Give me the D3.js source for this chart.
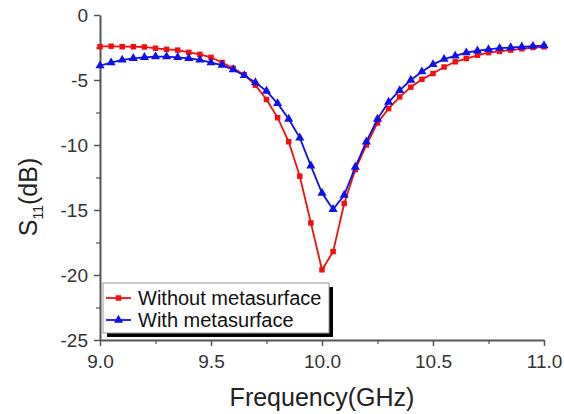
<!DOCTYPE html>
<html>
<head>
<meta charset="utf-8">
<script src="https://cdn.jsdelivr.net/npm/d3@7"></script>
<style>
  body { margin: 0; background: #fff; }
  text { font-family: "Liberation Sans", Arial, sans-serif; }
</style>
</head>
<body>
<div id="chart"></div>
<script>
// frequency points (GHz), 0.05 step
var freq = [9.00, 9.05, 9.10, 9.15, 9.20, 9.25, 9.30, 9.35, 9.40, 9.45,
            9.50, 9.55, 9.60, 9.65, 9.70, 9.75, 9.80, 9.85, 9.90, 9.95,
            10.00, 10.05, 10.10, 10.15, 10.20, 10.25, 10.30, 10.35, 10.40, 10.45,
            10.50, 10.55, 10.60, 10.65, 10.70, 10.75, 10.80, 10.85, 10.90, 10.95, 11.00];

var withoutMeta = [-2.44, -2.40, -2.44, -2.44, -2.46, -2.56, -2.64, -2.70, -2.87, -3.03,
                   -3.26, -3.65, -4.10, -4.60, -5.40, -6.50, -7.90, -9.75, -12.4, -16.0,
                   -19.6, -18.2, -14.5, -11.9, -10.0, -8.30, -7.20, -6.30, -5.55, -4.95,
                   -4.50, -4.00, -3.60, -3.35, -3.10, -2.90, -2.80, -2.70, -2.60, -2.50, -2.45];

var withMeta = [-3.90, -3.67, -3.46, -3.33, -3.26, -3.20, -3.20, -3.26, -3.33, -3.46,
                -3.67, -3.85, -4.20, -4.65, -5.20, -5.85, -6.80, -8.00, -9.45, -11.6,
                -13.7, -14.95, -13.85, -11.7, -9.75, -8.00, -6.70, -5.80, -5.00, -4.36,
                -3.80, -3.40, -3.15, -2.90, -2.75, -2.65, -2.55, -2.50, -2.45, -2.40, -2.35];

var xTicks = [9.0, 9.5, 10.0, 10.5, 11.0];
var yTicks = [0, -5, -10, -15, -20, -25];
var seriesNames = ["Without metasurface", "With metasurface"];

var W = 564, H = 414;
var margin = {top: 15, right: 20, bottom: 74, left: 100};
var width = W - margin.left - margin.right, height = H - margin.top - margin.bottom;

var svg = d3.select('#chart')
    .append('svg')
    .attr('width', W)
    .attr('height', H);
var g = svg.append('g')
    .attr('transform', 'translate(' + margin.left + ',' + margin.top + ')');

var x = d3.scaleLinear().domain([9, 11]).range([0, width]);
var y = d3.scaleLinear().domain([-25, 0]).range([height, 0]);

// minor ticks
g.append('g')
    .attr('transform', 'translate(0,' + height + ')')
    .call(d3.axisBottom(x).tickValues(d3.range(9.25, 11, 0.5)).tickSize(4).tickFormat(''))
    .call(function(a){ a.select('.domain').remove(); a.selectAll('line').attr('stroke', '#555').attr('stroke-width', 1.2); });
g.append('g')
    .call(d3.axisLeft(y).tickValues(d3.range(-22.5, 0, 5)).tickSize(4).tickFormat(''))
    .call(function(a){ a.select('.domain').remove(); a.selectAll('line').attr('stroke', '#555').attr('stroke-width', 1.2); });

// major axes
var xAxis = g.append('g')
    .attr('transform', 'translate(0,' + height + ')')
    .call(d3.axisBottom(x).tickValues(xTicks).tickSize(6).tickSizeOuter(0).tickPadding(9)
        .tickFormat(d3.format('.1f')));
var yAxis = g.append('g')
    .call(d3.axisLeft(y).tickValues(yTicks).tickSize(6).tickSizeOuter(0).tickPadding(6)
        .tickFormat(function(d){ return String(d); }));

[xAxis, yAxis].forEach(function(a){
  a.select('.domain').attr('stroke', '#555').attr('stroke-width', 2);
  a.selectAll('line').attr('stroke', '#555').attr('stroke-width', 1.5);
  a.selectAll('text').attr('font-size', 19).attr('fill', '#333')
    .style('font-family', '"Liberation Sans", Arial, sans-serif');
});

// axis titles
svg.append('text')
    .attr('x', margin.left + x(10))
    .attr('y', 406)
    .attr('text-anchor', 'middle')
    .attr('font-size', 25)
    .attr('fill', '#222')
    .text('Frequency(GHz)');

var yl = svg.append('text')
    .attr('transform', 'translate(37,197) rotate(-90)')
    .attr('text-anchor', 'middle')
    .attr('font-size', 25)
    .attr('fill', '#222');
yl.append('tspan').text('S');
yl.append('tspan').attr('font-size', 14).attr('dy', 6).text('11');
yl.append('tspan').attr('dy', -6).text('(dB)');

var colors = ['#f01010', '#1010e8'];
var dataSets = [withoutMeta, withMeta];

var line = d3.line()
    .x(function(d){ return x(d[0]); })
    .y(function(d){ return y(d[1]); });

var tri = d3.symbol().type(d3.symbolTriangle).size(36);
var sq = d3.symbol().type(d3.symbolSquare).size(30);

dataSets.forEach(function(vals, i){
  var pts = freq.map(function(f, k){ return [f, vals[k]]; });
  g.append('path')
      .datum(pts)
      .attr('fill', 'none')
      .attr('stroke', colors[i])
      .attr('stroke-width', 1.8)
      .attr('d', line);
  g.selectAll('.m' + i)
      .data(pts)
      .enter().append('path')
      .attr('class', 'm' + i)
      .attr('transform', function(d){ return 'translate(' + x(d[0]) + ',' + y(d[1]) + ')'; })
      .attr('d', i === 0 ? sq : tri)
      .attr('fill', colors[i]);
});

// legend
var lg = g.append('g').attr('transform', 'translate(3,268)');
lg.append('rect').attr('x', 4).attr('y', 4).attr('width', 226).attr('height', 50).attr('fill', '#000');
lg.append('rect').attr('x', 0).attr('y', 0).attr('width', 226).attr('height', 50)
    .attr('fill', '#fff').attr('stroke', '#999').attr('stroke-width', 1);
seriesNames.forEach(function(name, i){
  var cy = 15 + i * 22;
  lg.append('line').attr('x1', 3).attr('x2', 28).attr('y1', cy).attr('y2', cy)
      .attr('stroke', colors[i]).attr('stroke-width', 1.8);
  lg.append('path').attr('transform', 'translate(15.5,' + cy + ')')
      .attr('d', i === 0 ? sq : tri).attr('fill', colors[i]);
  lg.append('text').attr('x', 35).attr('y', cy + 7)
      .attr('font-size', 20).attr('fill', '#111').text(name);
});
</script>
</body>
</html>
